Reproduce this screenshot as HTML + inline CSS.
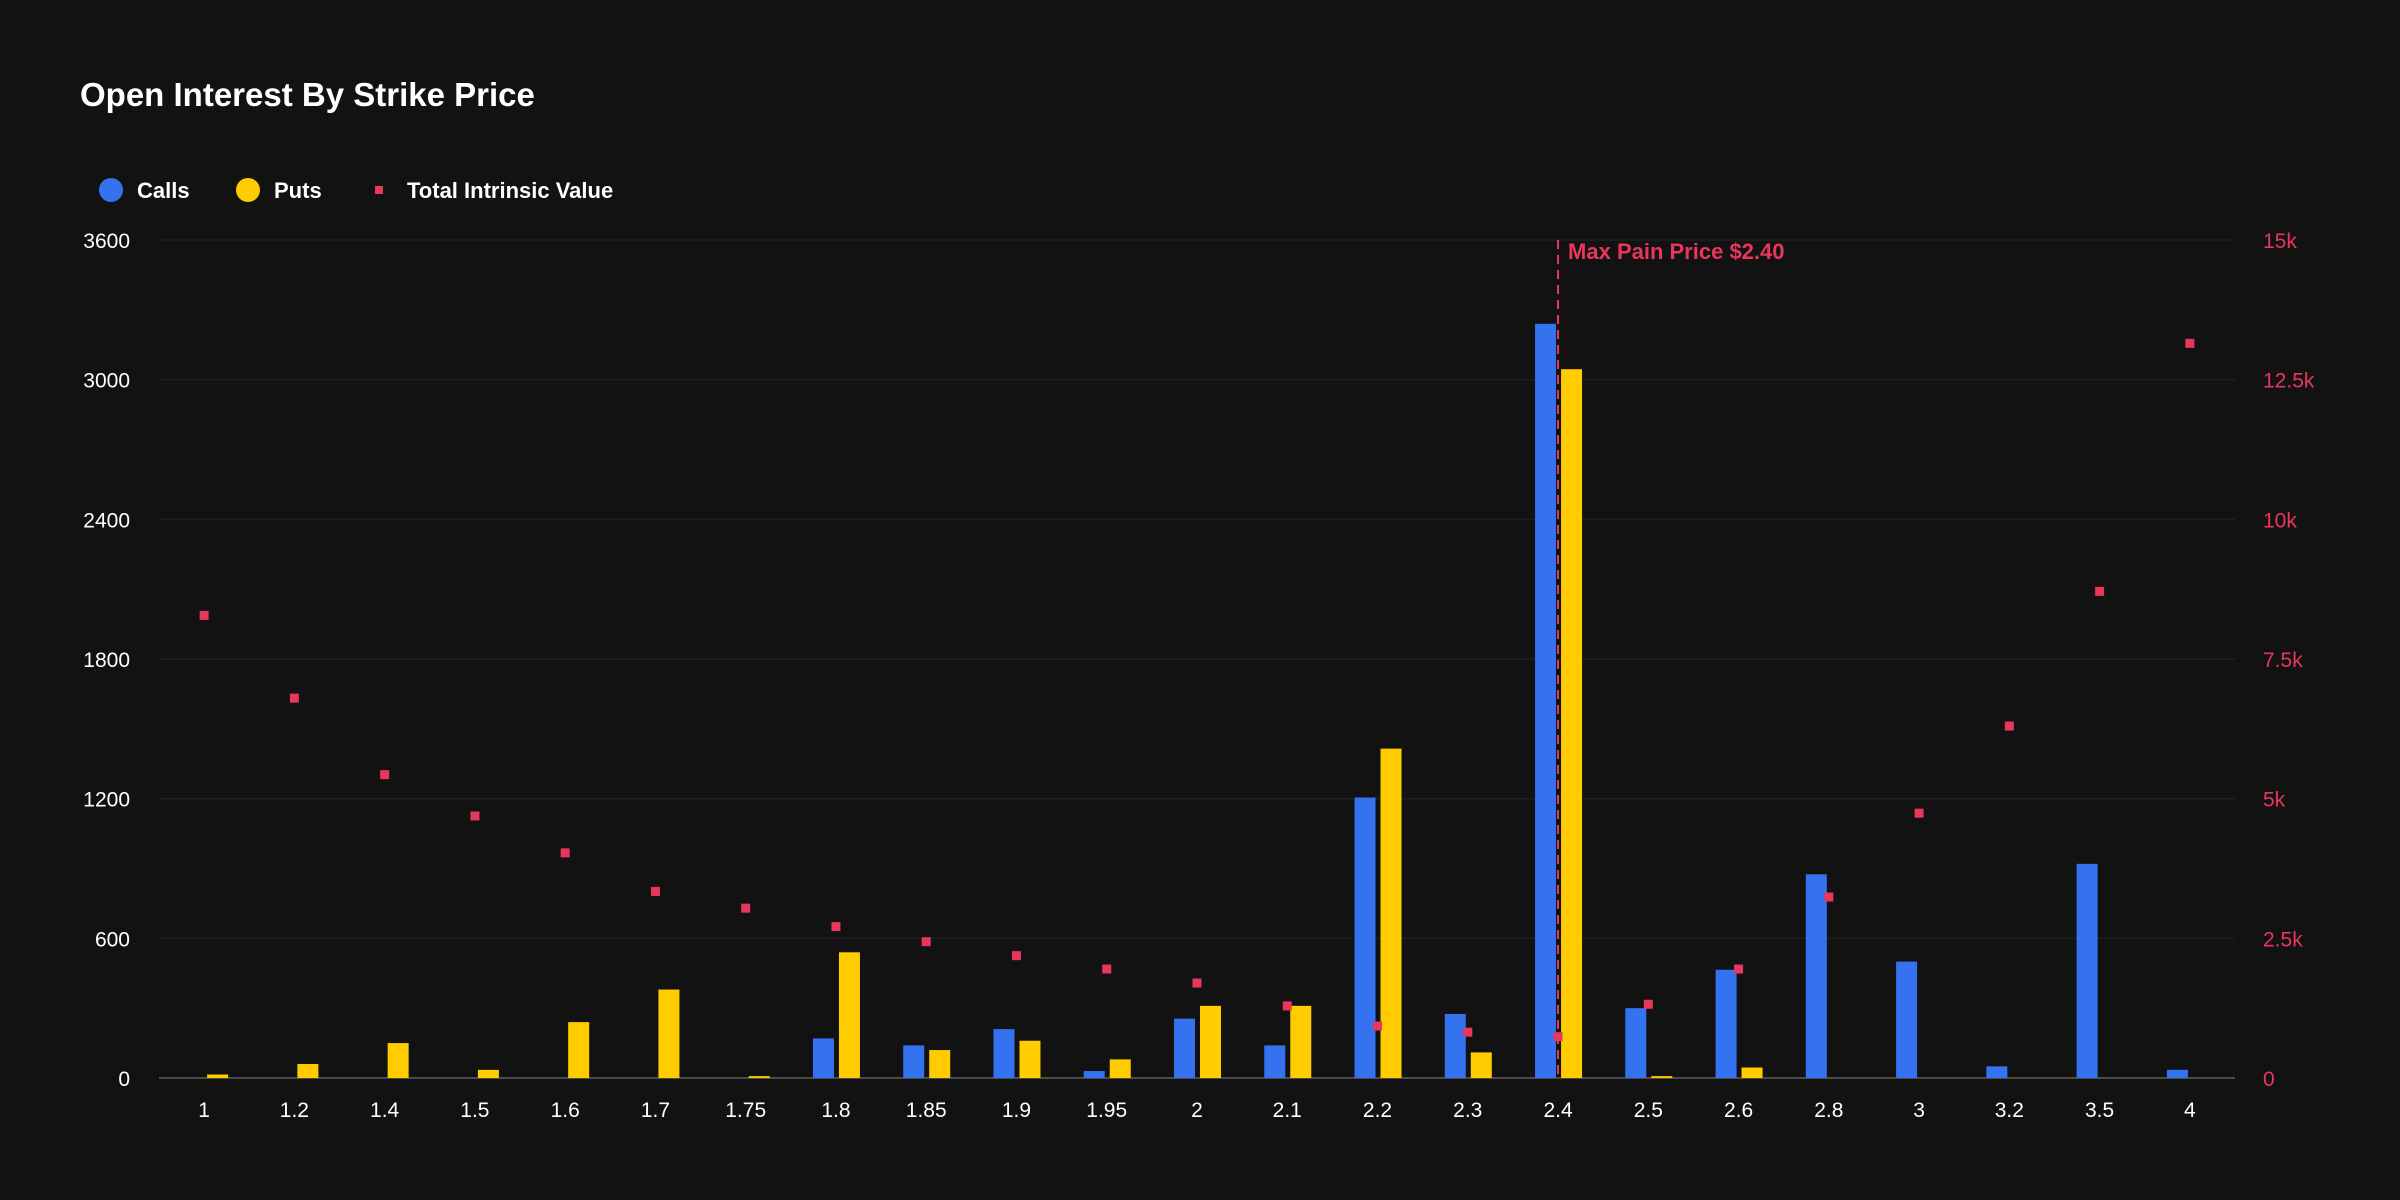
<!DOCTYPE html>
<html><head><meta charset="utf-8"><style>
html,body{margin:0;padding:0;background:#121212;width:2400px;height:1200px;overflow:hidden;font-family:"Liberation Sans",sans-serif;}
</style></head><body>
<svg id="chart" width="2400" height="1200" xmlns="http://www.w3.org/2000/svg">
<rect width="2400" height="1200" fill="#121212"/>
<text x="80" y="106" fill="#fff" font-size="33" font-weight="bold">Open Interest By Strike Price</text>
<g>
 <g><circle cx="111" cy="190" r="12" fill="#3572f0"/><text x="137" y="198" fill="#fff" font-size="22" font-weight="bold">Calls</text></g>
 <g><circle cx="248" cy="190" r="12" fill="#ffcc00"/><text x="274" y="198" fill="#fff" font-size="22" font-weight="bold">Puts</text></g>
 <g><rect x="375" y="186" width="8" height="8" fill="#e8365d"/><text x="407" y="198" fill="#fff" font-size="22" font-weight="bold">Total Intrinsic Value</text></g>
</g>
<g id="grid"></g><g id="marks"></g><g id="axes"></g>
</svg>
<script>
const categories=["1","1.2","1.4","1.5","1.6","1.7","1.75","1.8","1.85","1.9","1.95","2","2.1","2.2","2.3","2.4","2.5","2.6","2.8","3","3.2","3.5","4"];
const calls=[0,0,0,0,0,0,0,170,140,210,30,255,140,1205,275,3240,300,465,875,500,50,920,35];
const puts=[15,60,150,35,240,380,8,540,120,160,80,310,310,1415,110,3045,8,45,0,0,0,0,0];
const intrinsic=[8280,6800,5430,4690,4030,3340,3040,2710,2440,2190,1950,1700,1290,930,820,740,1320,1950,3240,4740,6300,8710,13150];
const leftTicks=[0,600,1200,1800,2400,3000,3600];
const rightTicks=[0,2500,5000,7500,10000,12500,15000];
const rightLabels=["0","2.5k","5k","7.5k","10k","12.5k","15k"];
const maxPain="2.4";
const NS="http://www.w3.org/2000/svg";
const L=159,R=2235,T=240,B=1078;
const step=(R-L)/categories.length;
const xc=i=>L+step*(i+0.5);
const yl=v=>B-(v/3600)*(B-T);
const yr=v=>B-(v/15000)*(B-T);
function mk(tag,attrs,parent){const e=document.createElementNS(NS,tag);for(const k in attrs)e.setAttribute(k,attrs[k]);parent.appendChild(e);return e;}
const grid=document.getElementById('grid'),marks=document.getElementById('marks'),axes=document.getElementById('axes');
leftTicks.forEach((t,i)=>{
 const g=mk('line',{x1:L,x2:R,y1:yl(t),y2:yl(t),stroke:i==0?'#4a4a4a':'#1f1f1f','stroke-width':i==0?2:1.5},grid);
 
 
 const tx=mk('text',{x:130,y:yl(t)+8,fill:'#fff','font-size':21,'text-anchor':'end'},axes);tx.textContent=t;
 
 
});
rightTicks.forEach((t,i)=>{
 const tx=mk('text',{x:2263,y:yr(t)+8,fill:'#e8365d','font-size':21},axes);tx.textContent=rightLabels[i];
 
 
});
categories.forEach((c,i)=>{
 const x=xc(i);
 const tx=mk('text',{x:x,y:1117,fill:'#fff','font-size':21,'text-anchor':'middle'},axes);tx.textContent=c;
 
 
 if(calls[i]>0){const b=mk('rect',{x:x-23,y:yl(calls[i]),width:21,height:B-yl(calls[i]),fill:'#3572f0'},marks);
  
  }
 if(puts[i]>0){const b=mk('rect',{x:x+3,y:yl(puts[i]),width:21,height:B-yl(puts[i]),fill:'#ffcc00'},marks);
  
  }
});
const mi=categories.indexOf(maxPain);
const ml=mk('line',{x1:xc(mi),x2:xc(mi),y1:T,y2:B,stroke:'#e8365d','stroke-width':2,'stroke-dasharray':'9,6'},marks);


const mt=mk('text',{x:xc(mi)+10,y:259,fill:'#e8365d','font-size':22,'font-weight':'bold'},marks);mt.textContent='Max Pain Price $2.40';


categories.forEach((c,i)=>{
 const p=mk('rect',{x:xc(i)-4.5,y:yr(intrinsic[i])-4.5,width:9,height:9,fill:'#e8365d'},marks);
 
 
});
</script>
</body></html>
